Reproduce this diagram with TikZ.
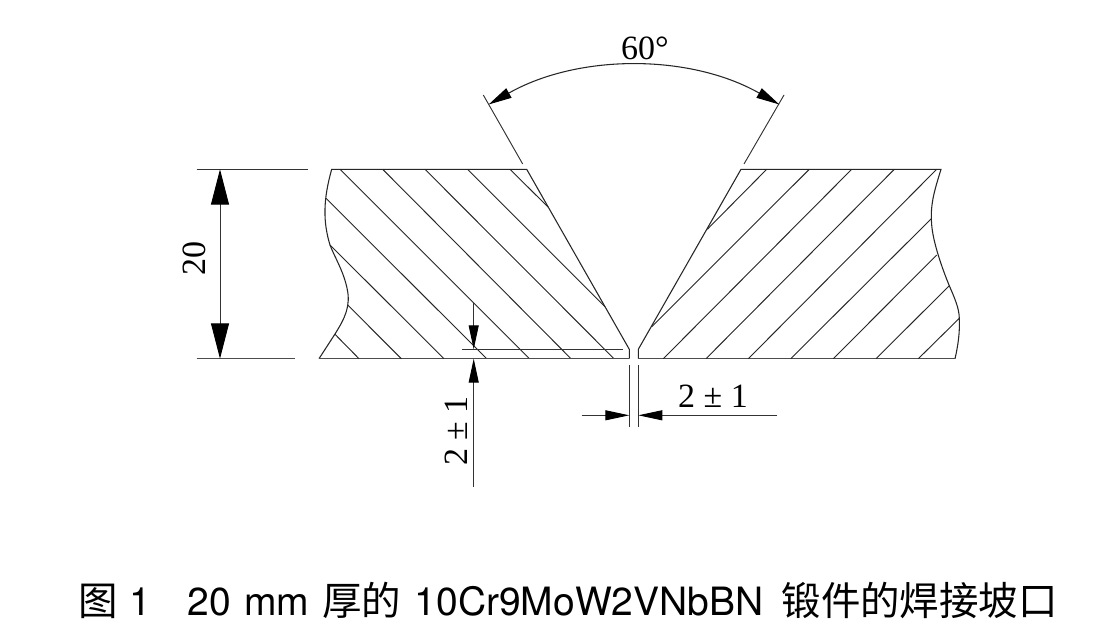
\documentclass[tikz,border=0pt]{standalone}
\usepackage{fontspec}
\usetikzlibrary{arrows.meta}
\setmainfont{Liberation Serif}
\newfontfamily\capfont{TeX Gyre Heros}
\newfontfamily\cjk[Scale=1.012]{Noto Sans CJK SC}
\tikzset{
  outline/.style={line width=.8pt,black!85,line join=miter},
  baseedge/.style={line width=1.1pt,black!70},
  hatch/.style={line width=.7pt,black!85},
  extline/.style={line width=.7pt,black!80},
  dimline/.style={line width=.7pt,black!80},
  bigdim/.style={dimline,{Triangle[length=26.5pt,width=13.5pt,black]}-{Triangle[length=26.5pt,width=13.5pt,black]}},
  smalltip/.style={dimline,-{Triangle[length=18pt,width=7.5pt,black]}},
  arcdim/.style={line width=.8pt,black!85,{Triangle[length=17.5pt,width=8pt,black]}-{Triangle[length=17.5pt,width=8pt,black]}},
  dimtext/.style={font=\fontsize{25.5}{26}\selectfont,inner sep=0pt},
  captext/.style={font=\capfont\fontsize{29.25}{30}\selectfont,inner sep=0pt,anchor=base west},
}
\begin{document}
\begin{tikzpicture}[x=.75pt,y=-.75pt]
\useasboundingbox (0,0) rectangle (1118,632);
\fill[white] (0,0) rectangle (1118,632);

% left plate
\draw[outline] (319,358.7) -- (335,334) .. controls (345,318) and (351,306) .. (347,288) .. controls (343,270) and (335,258) .. (330,245) .. controls (323,222) and (323,200) .. (331.7,169.3) -- (526.7,169.3) -- (629.3,349.3) -- (629.3,358.7);
\draw[baseedge] (319,358.7) -- (629.3,358.7);
% left hatching
\foreach \a/\b/\c/\d in {340/169.3/529.4/358.7, 382.7/169.3/571/358.7, 425/169.3/614/358.7, 467.5/169.3/605/306.7, 510/169.3/548/207,
  326/198.3/486.7/358.7, 330/245/444/358.7, 347.7/305/401.3/358.7, 335/334.3/359/358.7}
  \draw[hatch] (\a,\b) -- (\c,\d);

% right plate
\draw[outline] (638.3,358.7) -- (638.3,349.3) -- (741,169.3) -- (941,169.3) .. controls (934,192) and (930,205) .. (931.7,225) .. controls (933,242) and (942,268) .. (949,285) .. controls (955,299) and (959,308) .. (959.3,318) .. controls (960,332) and (958,346) .. (955,358.7);
\draw[baseedge] (638.3,358.7) -- (955,358.7);
% right hatching
\foreach \a/\b/\c/\d in {766.7/169.3/707.3/229.3, 809.3/169.3/651.7/326.7, 851.7/169.3/663.3/358.7, 894.3/169.3/706/358.7, 936.7/169.3/748.3/358.7,
  931.7/218.3/790.7/358.7, 936.7/255/833.3/358.7, 949/286/876/358.7, 959.3/318.3/918.3/358.7}
  \draw[hatch] (\a,\b) -- (\c,\d);

% 20 dimension
\coordinate (t1) at (196.7,169.3); \coordinate (t2) at (308.3,169.3);
\coordinate (b1) at (196.7,358.7); \coordinate (b2) at (295,358.7);
\coordinate (dt) at (220,169.3); \coordinate (db) at (220,358.7);
\draw[extline] (t1) -- (t2);
\draw[baseedge] (b1) -- (b2);
\draw[bigdim] (dt) -- (db);
\node[dimtext,rotate=90] (lab20) at (194,258) {20};

% 60 degree dimension
\coordinate (la) at (483.3,95); \coordinate (lb) at (522.7,164);
\coordinate (ra) at (784,95); \coordinate (rb) at (744,164);
\coordinate (arcl) at (488.6,104.5); \coordinate (arcr) at (779.4,104.5);
\draw[extline] (la) -- (lb);
\draw[extline] (ra) -- (rb);
\draw[arcdim] (arcl) .. controls (578.4,53.7) and (689.6,53.7) .. (arcr);
\node[dimtext] (lab60) at (645,48) {60°};

% root face height
\coordinate (vt) at (473.7,302.7); \coordinate (vm1) at (473.7,349.3);
\coordinate (vm2) at (473.7,358.7); \coordinate (vb) at (473.7,486.7);
\coordinate (h1) at (462.3,349.3); \coordinate (h2) at (622.7,349.3);
\draw[extline] (h1) -- (h2);
\draw[baseedge] (h1 |- vm2) -- (622.7,358.7);
\draw[smalltip] (vt) -- (vm1);
\draw[smalltip] (vb) -- (vm2);
\node[dimtext,rotate=90] (labv) at (456,431) {2 ± 1};

% root gap
\coordinate (g1t) at (629.3,365); \coordinate (g1b) at (629.3,427.3);
\coordinate (g2t) at (638.3,365); \coordinate (g2b) at (638.3,427.3);
\coordinate (gl) at (581.7,415.3); \coordinate (gr) at (777,415.3);
\draw[extline] (g1t) -- (g1b);
\draw[extline] (g2t) -- (g2b);
\draw[smalltip] (gl) -- (g1t |- gl);
\draw[smalltip] (gr) -- (g2t |- gr);
\node[dimtext] (labh) at (713,396) {2 ± 1};

% caption
\node[captext] (caption) at (78,615) {{\cjk 图}\hspace{9pt}1\hspace{27pt}20\hspace{10pt}mm\hspace{10pt}{\cjk 厚的}\hspace{10pt}10Cr9MoW2VNbBN\hspace{13.5pt}{\cjk 锻件的焊接坡口}};
\end{tikzpicture}
\end{document}
